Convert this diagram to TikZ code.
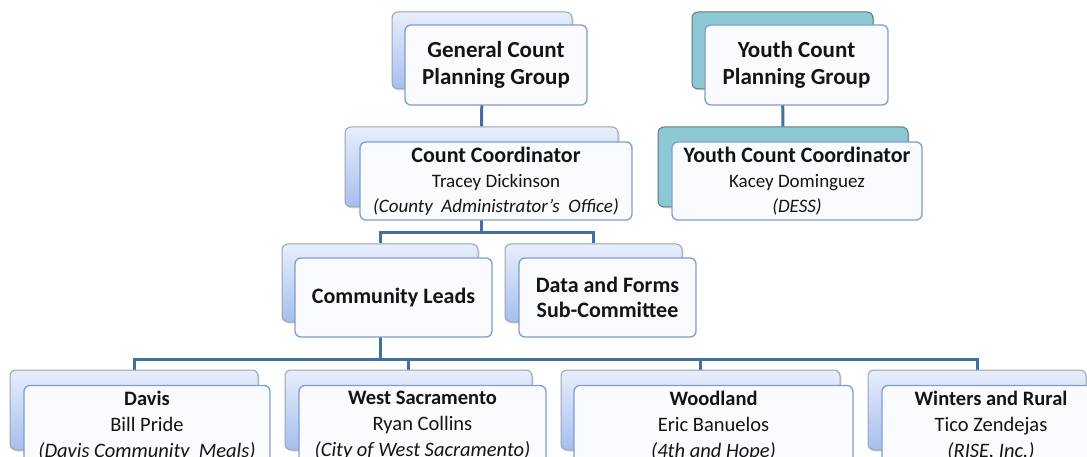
\documentclass[tikz,border=0pt]{standalone}
\usepackage{fontspec}
\setmainfont{Carlito}
\usetikzlibrary{backgrounds,shadows}
\definecolor{lineblue}{HTML}{41709F}
\definecolor{frontedge}{HTML}{7F9DD0}
\definecolor{frontfill}{HTML}{FAFBFE}
\definecolor{backtop}{HTML}{E8EEFB}
\definecolor{backbot}{HTML}{A6BEEE}
\definecolor{backedge}{HTML}{9AA3B0}
\definecolor{teal}{HTML}{8DC8D5}
\definecolor{tealedge}{HTML}{62777F}
\definecolor{txt}{HTML}{141414}
\tikzset{
  backbox/.style={rectangle, rounded corners=6pt, draw=backedge, line width=1pt,
    top color=backtop, bottom color=backbot, inner sep=0pt,
    drop shadow={opacity=0.25, shadow xshift=1.5pt, shadow yshift=-1.5pt}},
  tealbox/.style={rectangle, rounded corners=6pt, draw=tealedge, line width=1pt,
    fill=teal, inner sep=0pt,
    drop shadow={opacity=0.25, shadow xshift=1.5pt, shadow yshift=-1.5pt}},
  frontbox/.style={rectangle, rounded corners=6pt, draw=frontedge, line width=1.3pt,
    fill=frontfill, inner sep=0pt, align=center, text=txt},
  titlefont/.style={font=\fontsize{23}{27}\selectfont\bfseries},
  headfont/.style={font=\fontsize{22}{25}\selectfont\bfseries},
  cardfont/.style={font=\fontsize{19}{25}\selectfont},
  leadfont/.style={font=\fontsize{20.5}{26}\selectfont},
  conn/.style={draw=lineblue, line width=3pt},
}
\newcommand{\hb}[1]{{\fontsize{22}{25}\selectfont\bfseries #1}}
\newcommand{\lb}[1]{{\bfseries #1}}
\begin{document}
\begin{tikzpicture}[x=1pt,y=-1pt]
\useasboundingbox (0,0) rectangle (1087,457);

% ---- row 1
\node[backbox, minimum width=180pt, minimum height=77pt] (gcB) at (482,50.5) {};
\node[frontbox, titlefont, minimum width=182pt, minimum height=80pt] (gc) at (496,65)
  {General Count\\Planning Group};
\node[tealbox, minimum width=181pt, minimum height=77pt] (ycB) at (782.5,50.5) {};
\node[frontbox, titlefont, minimum width=183pt, minimum height=80pt] (yc) at (796.5,65)
  {Youth Count\\Planning Group};

% ---- row 2
\node[backbox, minimum width=273pt, minimum height=80pt] (ccB) at (481.5,167) {};
\node[frontbox, cardfont, minimum width=272pt, minimum height=78pt] (cc) at (496,181)
  {\hb{Count Coordinator}\\Tracey Dickinson\\\itshape (County\ \ Administrator’s\ \ Office)};
\node[tealbox, minimum width=250pt, minimum height=80pt] (yccB) at (783,167) {};
\node[frontbox, cardfont, minimum width=250pt, minimum height=78pt] (ycc) at (797,181)
  {\hb{Youth Count Coordinator}\\Kacey Dominguez\\\itshape (DESS)};

% ---- row 3
\node[backbox, minimum width=196pt, minimum height=78pt] (clB) at (380,283) {};
\node[frontbox, headfont, minimum width=197pt, minimum height=79pt] (cl) at (393.5,297.5)
  {Community Leads};
\node[backbox, minimum width=177pt, minimum height=78pt] (dfB) at (593.5,283) {};
\node[frontbox, headfont, minimum width=177pt, minimum height=79pt] (df) at (607.5,297.5)
  {Data and Forms\\Sub-Committee};

% ---- row 4
\node[backbox, minimum width=248pt, minimum height=80pt] (daB) at (134,410) {};
\node[frontbox, leadfont, minimum width=246pt, minimum height=80pt] (da) at (147,425.5)
  {\lb{Davis}\\Bill Pride\\\itshape (Davis Community\ \ Meals)};
\node[backbox, minimum width=247pt, minimum height=80pt] (wsB) at (408.5,410) {};
\node[frontbox, leadfont, minimum width=247pt, minimum height=80pt] (ws) at (422.5,425.5)
  {\lb{West Sacramento}\\Ryan Collins\\\itshape (City of West Sacramento)};
\node[backbox, minimum width=279pt, minimum height=80pt] (woB) at (700.5,410) {};
\node[frontbox, leadfont, minimum width=279pt, minimum height=80pt] (wo) at (713.5,425.5)
  {\lb{Woodland}\\Eric Banuelos\\\itshape (4th and Hope)};
\node[backbox, minimum width=218pt, minimum height=80pt] (wrB) at (977,410) {};
\node[frontbox, leadfont, minimum width=218pt, minimum height=80pt] (wr) at (991,425.5)
  {\lb{Winters and Rural}\\Tico Zendejas\\\itshape (RISE, Inc.)};

% ---- connectors
\coordinate (j1) at (0,233);
\coordinate (j2) at (0,359);
\begin{pgfonlayer}{background}
\draw[conn] (gcB.south) -- (ccB.north);
\draw[conn] (ycB.south) -- (yccB.north);
\draw[conn] (ccB.south) -- (ccB.south |- j1) -| (clB.north);
\draw[conn] (ccB.south |- j1) -| (dfB.north);
\draw[conn] (clB.south) -- (clB.south |- j2) -| (daB.north);
\draw[conn] (clB.south |- j2) -| (wsB.north);
\draw[conn] (clB.south |- j2) -| (woB.north);
\draw[conn] (clB.south |- j2) -| (wrB.north);
\end{pgfonlayer}
\end{tikzpicture}
\end{document}
